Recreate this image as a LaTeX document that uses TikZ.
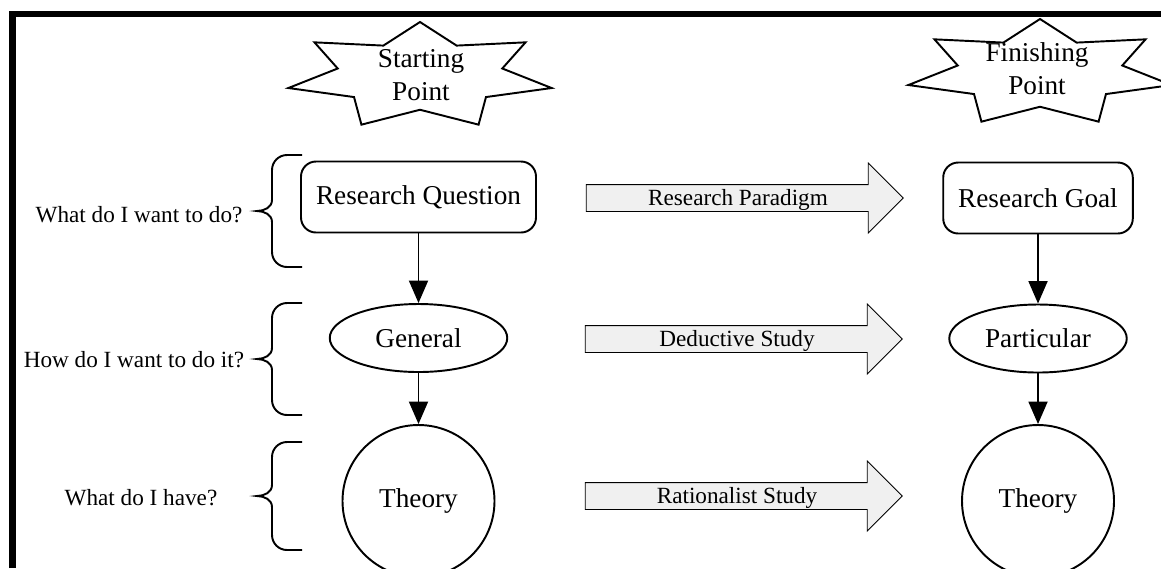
\documentclass[tikz,border=0pt]{standalone}
\usepackage{fontspec}
\setmainfont{Liberation Serif}
\usetikzlibrary{graphs}
\usetikzlibrary{arrows.meta}
\usetikzlibrary{shapes.geometric}
\usetikzlibrary{shapes.arrows}
\newcommand\bigtxt{\fontsize{15.5}{18.8}\selectfont}
\newcommand\smalltxt{\fontsize{13.2}{15.8}\selectfont}
\tikzset{
  box/.style= {draw, line width=1.1pt, rounded corners=0.3cm, minimum height=1.42cm, inner xsep=0.3cm, font=\bigtxt},
  oval/.style= {draw, ellipse, line width=1.1pt, minimum width=3.55cm, minimum height=1.36cm, inner sep=0pt, font=\bigtxt},
  disc/.style= {draw, circle, line width=1.1pt, minimum size=3.04cm, font=\bigtxt},
  burst/.style= {draw, star, star points=7, star point ratio=1.6, minimum size=2.16cm, inner sep=0pt, xscale=2.5, line width=1.1pt},
  band/.style= {draw, single arrow, single arrow head extend=0.43cm, minimum height=6.34cm, fill=gray!12, line width=0.5pt, font=\smalltxt, text height=10pt, text depth=2pt, inner ysep=1.4pt},
  curly/.style= {line width=1.1pt},
  ask/.style= {font=\smalltxt},
}

\begin{document}
\begin{tikzpicture}[>={Triangle[length=0.45cm, width=0.38cm]}]
  \useasboundingbox (0,0) rectangle (23.22,-11.36);
  \draw [line width=0.13cm] (0.25,-11.36) -- (0.25,-0.28) -- (23.22,-0.28);

  \node [burst] (startstar) at (8.4,-1.52) {};
  \node [align=center, font=\bigtxt] (starttext) at (8.42,-1.5) {Starting\\Point};
  \node [burst] (finishstar) at (20.8,-1.46) {};
  \node [align=center, font=\bigtxt] (finishtext) at (20.74,-1.38) {Finishing\\Point};

  \node [box] (rq) at (8.37,-3.94) {Research Question};
  \node [oval] (gen) at (8.37,-6.76) {General};
  \node [disc] (th1) at (8.37,-10.02) {Theory};
  \node [box] (rg) at (20.76,-3.96) {Research Goal};
  \node [oval] (part) at (20.76,-6.77) {Particular};
  \node [disc] (th2) at (20.76,-10.02) {Theory};

  \node [band] (para) at (14.76,-3.96) {Research Paradigm};
  \node [band] (dedu) at (14.74,-6.78) {Deductive Study};
  \node [band] (rati) at (14.74,-9.92) {Rationalist Study};

  \node [ask] (want) at (2.78,-4.3) {What do I want to do?};
  \node [ask] (how) at (2.68,-7.2) {How do I want to do it?};
  \node [ask] (have) at (2.82,-9.96) {What do I have?};

  \foreach \yt/\ym/\yb in {-3.1/-4.22/-5.34, -6.06/-7.18/-8.3, -8.84/-9.92/-11.0}
    \draw [curly] (6.04,\yt) -- (5.74,\yt) to[out=180,in=90] (5.44,{\yt-0.3})
      -- (5.44,{\ym+0.22}) to[out=-90,in=0] (5.14,\ym) to[out=0,in=90] (5.44,{\ym-0.22})
      -- (5.44,{\yb+0.3}) to[out=-90,in=180] (5.74,\yb) -- (6.04,\yb);

  \graph [edges={line width=1.1pt}] {
    (rq) -> (gen) -> (th1) ;
    (rg) -> (part) -> (th2) ;
  } ;
\end{tikzpicture}
\end{document}
